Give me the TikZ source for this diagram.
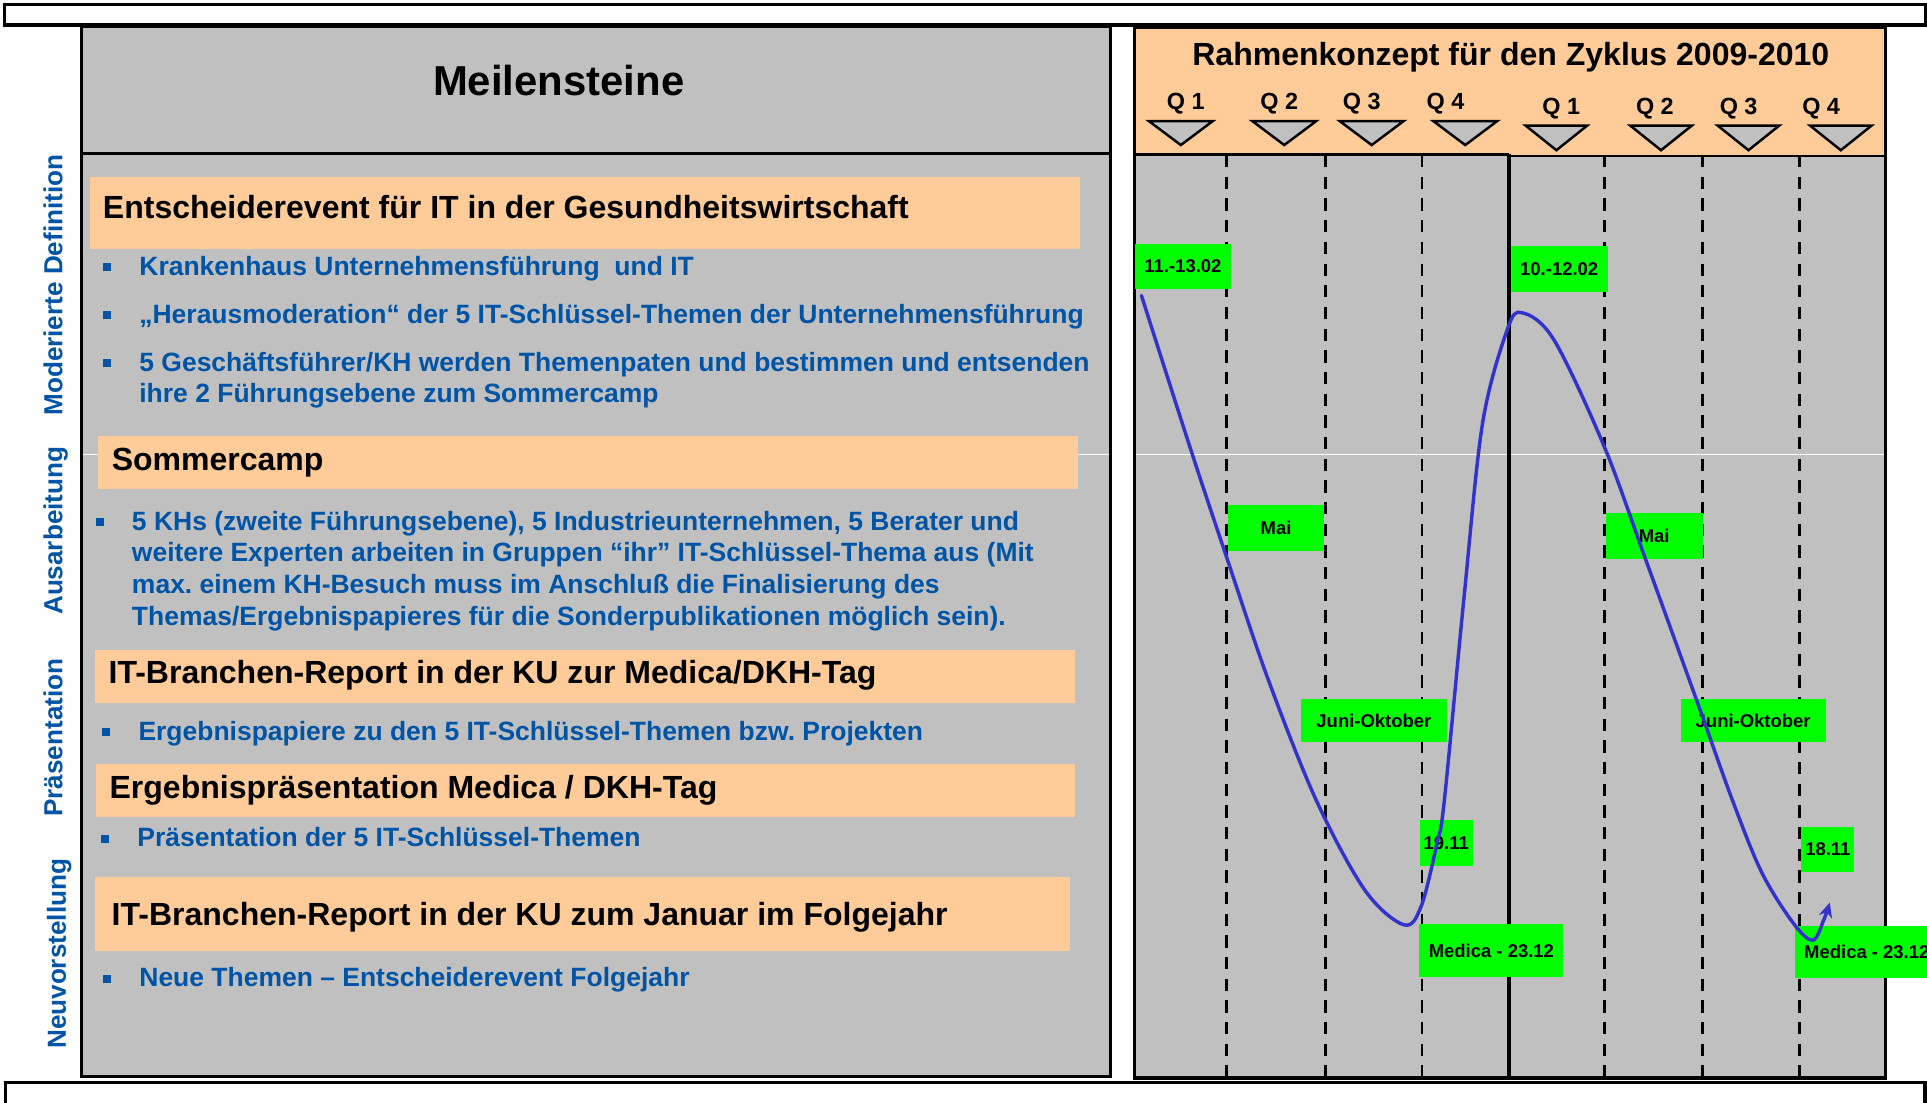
\documentclass[tikz,border=0pt]{standalone}
\usepackage{fontspec}
\setmainfont{Liberation Sans}
\usetikzlibrary{arrows.meta}
\frenchspacing

\definecolor{panelgrau}{HTML}{C0C0C0}
\definecolor{hellorange}{HTML}{FFCC99}
\definecolor{gruen}{HTML}{00FF00}
\definecolor{textblau}{HTML}{0054A6}
\definecolor{kurvenblau}{HTML}{3333CC}

\newcommand{\punkt}{\llap{\raisebox{3.5pt}{\rule{6.5pt}{6.5pt}}\hspace{23pt}}}

\begin{document}
\begin{tikzpicture}[x=1pt,y=-1pt,
        rahmen/.style={draw=black, line width=2.5pt},
        kopf/.style={anchor=base west, inner sep=0pt, font=\fontsize{26}{30}\selectfont\bfseries},
        punkttext/.style={anchor=base west, inner sep=0pt, text=textblau, font=\fontsize{21.5}{25.7}\selectfont\bfseries},
        seitentext/.style={rotate=90, anchor=base, inner sep=0pt, text=textblau, font=\fontsize{21.2}{25}\selectfont\bfseries},
        quartal/.style={anchor=base, inner sep=0pt, font=\fontsize{19}{22}\selectfont\bfseries},
        termin/.style={fill=gruen, inner sep=0pt, minimum width=78.6pt, minimum height=37.2pt, font=\fontsize{15}{18}\selectfont\bfseries},
        dreieck/.style={draw=black, fill=panelgrau, line width=2pt, line join=miter},
        trenn/.style={draw=black, line width=2pt, dash pattern=on 10pt off 7.6pt},
        kurve/.style={draw=kurvenblau, line width=2.8pt, line cap=round}]
    \useasboundingbox (0,0) rectangle (1565,895);

    % obere und untere Leiste
    \draw[line width=2.7pt, fill=white] (3.6,3.5) rectangle (1563.5,20.4);
    \draw[line width=2.7pt, fill=white] (4.4,879.3) rectangle (1563.3,905);

    % Seitenbeschriftung
    \node[seitentext] (moderiert) at (50.7,231.5) {Moderierte Definition};
    \node[seitentext] (ausarbeitung) at (50.7,431) {Ausarbeitung};
    \node[seitentext] (praesentation) at (50.7,599) {Präsentation};
    \node[seitentext] (neuvorstellung) at (53.5,774.6) {Neuvorstellung};

    % linkes Feld: Meilensteine
    \fill[panelgrau] (66.3,21.7) rectangle (902,874);
    \fill[panelgrau] (921,22) rectangle (1531,875.5);
    \fill[hellorange] (921,22) rectangle (1225.5,125.4);
    \fill[hellorange] (1225.5,22) rectangle (1531,126.7);
    \draw[white, line width=1pt] (66.3,369) -- (1531,369);
    \draw[rahmen] (66.3,21.7) rectangle (902,874);
    \draw[rahmen] (66.3,125) -- (902,125);

    \node[anchor=base, inner sep=0pt, font=\fontsize{34}{40}\selectfont\bfseries] (meilensteine) at (453.7,77.2) {Meilensteine};

    \fill[hellorange] (73.2,144) rectangle (876.7,202.5);
    \fill[hellorange] (79.7,354) rectangle (875.5,397.4);
    \fill[hellorange] (76.8,528) rectangle (873,570.8);
    \fill[hellorange] (78,620.7) rectangle (873,663.4);
    \fill[hellorange] (77.4,712.6) rectangle (868.8,772.3);

    \node[kopf] (entscheider) at (83.4,177.4) {Entscheiderevent für IT in der Gesundheitswirtschaft};
    \node[punkttext] (p1) at (113,223.4) {\punkt Krankenhaus Unternehmensführung\ \ und IT};
    \node[punkttext] (p2) at (113,262.6) {\punkt „Herausmoderation“ der 5 IT-Schlüssel-Themen der Unternehmensführung};
    \node[punkttext] (p3) at (113,301.4) {\punkt 5 Geschäftsführer/KH werden Themenpaten und bestimmen und entsenden};
    \node[punkttext] (p3b) at (113,327) {ihre 2 Führungsebene zum Sommercamp};

    \node[kopf] (sommercamp) at (90.6,381.8) {Sommercamp};
    \node[punkttext] (p4) at (107,430.5) {\punkt 5 KHs (zweite Führungsebene), 5 Industrieunternehmen, 5 Berater und};
    \node[punkttext] (p4b) at (107,456.3) {weitere Experten arbeiten in Gruppen “ihr” IT-Schlüssel-Thema aus (Mit};
    \node[punkttext] (p4c) at (107,481.9) {max. einem KH-Besuch muss im Anschluß die Finalisierung des};
    \node[punkttext] (p4d) at (107,507.7) {Themas/Ergebnispapieres für die Sonderpublikationen möglich sein).};

    \node[kopf] (report) at (88,555) {IT-Branchen-Report in der KU zur Medica/DKH-Tag};
    \node[punkttext] (p5) at (112.3,601) {\punkt Ergebnispapiere zu den 5 IT-Schlüssel-Themen bzw. Projekten};

    \node[kopf] (ergebnis) at (88.8,648.5) {Ergebnispräsentation Medica / DKH-Tag};
    \node[punkttext] (p6) at (111.4,687.8) {\punkt Präsentation der 5 IT-Schlüssel-Themen};

    \node[kopf] (januar) at (90.5,751.4) {IT-Branchen-Report in der KU zum Januar im Folgejahr};
    \node[punkttext] (p7) at (113,801.5) {\punkt Neue Themen – Entscheiderevent Folgejahr};

    % rechtes Feld: Rahmenkonzept
    \node[anchor=base, inner sep=0pt, font=\fontsize{26}{30}\selectfont\bfseries] (rahmen) at (1227,52.8) {Rahmenkonzept für den Zyklus 2009-2010};

    \foreach \x [count=\i] in {963,1039,1106,1174}
        \node[quartal] (qa\i) at (\x,88.8) {Q \i};
    \foreach \x [count=\i] in {1268,1344,1412,1479}
        \node[quartal] (qb\i) at (\x,92.9) {Q \i};
    \foreach \x in {959,1043,1114,1190}
        \draw[dreieck] (\x-26,98.3) -- (\x+26,98.3) -- (\x,117.8) -- cycle;
    \foreach \x in {1264,1349,1420,1495}
        \draw[dreieck] (\x-25,102) -- (\x+25,102) -- (\x,122) -- cycle;

    \foreach \x in {996,1076.5,1155,1303,1382.6,1461.6}
        \draw[trenn] (\x,126) -- (\x,875);

    \draw[line width=2pt] (921,125.4) -- (1225.5,125.4);
    \draw[line width=2pt] (1225.5,126.7) -- (1531,126.7);
    \draw[line width=3.5pt] (1225.5,125) -- (1225.5,875.5);
    \draw[rahmen] (921,22) rectangle (1531,875.5);

    \node[termin] (feb1) at (960.7,216.4) {11.-13.02};
    \node[termin] (feb2) at (1266.3,218.2) {10.-12.02};
    \node[termin] (mai1) at (1036.3,428.7) {Mai};
    \node[termin] (mai2) at (1343.4,435.4) {Mai};
    \node[termin, minimum width=119pt, minimum height=34.5pt] (juni1) at (1115.8,585.3) {Juni-Oktober};
    \node[termin, minimum width=117.6pt, minimum height=34.5pt] (juni2) at (1423.8,585.3) {Juni-Oktober};
    \node[termin, minimum width=43pt, minimum height=37pt] (nov1) at (1174.5,684.5) {19.11};
    \node[termin, minimum width=43pt, minimum height=36pt] (nov2) at (1484.5,690) {18.11};
    \node[termin, minimum width=117pt, minimum height=42.8pt] (medica1) at (1211.2,772) {Medica - 23.12};
    \node[termin, minimum width=117pt, minimum height=42.6pt] (medica2) at (1516.1,773) {Medica - 23.12};

    % Verlauf ueber beide Jahre
    \draw[kurve, -{Stealth[length=12pt,width=11pt]}] plot[smooth, tension=0.55] coordinates {(927,240) (968,368) (997,455) (1030,552) (1069,650) (1108.5,723) (1140,751) (1154,736.5) (1167,685) (1173,650) (1189,485) (1204,344) (1224,268) (1236,254) (1262,276) (1303,363) (1336,453) (1378,569) (1407,650) (1431,709) (1456.6,750) (1472.3,763.6) (1481,747.4) (1486,733)};
\end{tikzpicture}
\end{document}
